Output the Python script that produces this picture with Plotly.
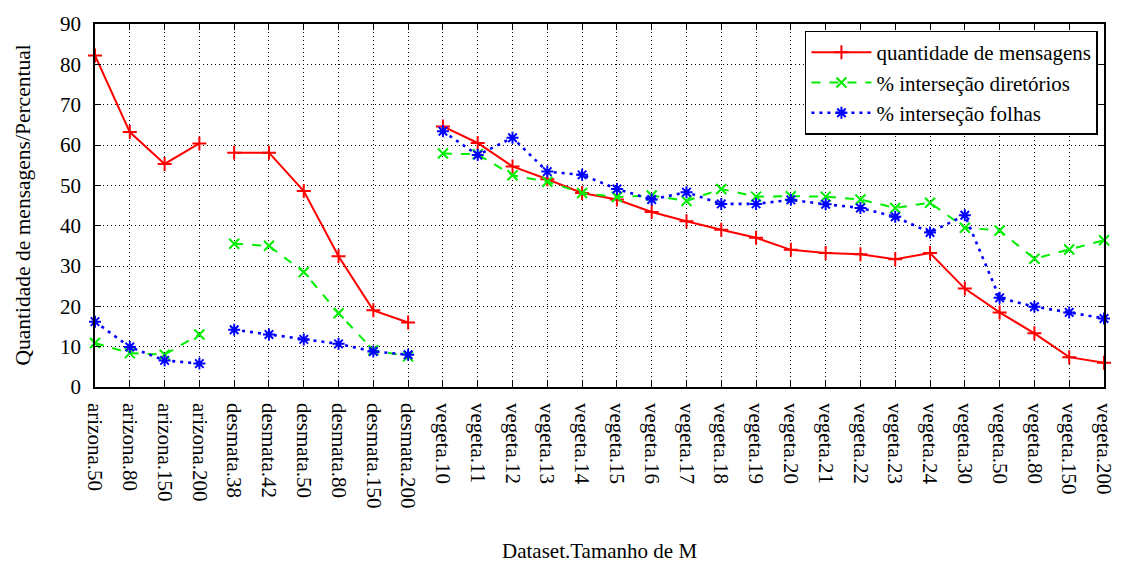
import plotly.graph_objects as go

categories = [
    "arizona.50", "arizona.80", "arizona.150", "arizona.200",
    "desmata.38", "desmata.42", "desmata.50", "desmata.80", "desmata.150", "desmata.200",
    "vegeta.10", "vegeta.11", "vegeta.12", "vegeta.13", "vegeta.14", "vegeta.15",
    "vegeta.16", "vegeta.17", "vegeta.18", "vegeta.19", "vegeta.20", "vegeta.21",
    "vegeta.22", "vegeta.23", "vegeta.24", "vegeta.30", "vegeta.50", "vegeta.80",
    "vegeta.150", "vegeta.200",
]

mensagens = [82.2, 63.2, 55.3, 60.4,
             58.1, 58.1, 48.6, 32.4, 19.0, 16.0,
             64.6, 60.5, 54.7, 51.5, 48.1, 46.5, 43.4, 41.1, 39.0, 37.0,
             34.0, 33.2, 32.9, 31.7, 33.2, 24.4, 18.5, 13.3, 7.4, 6.0]

diretorios = [10.9, 8.4, 8.0, 13.0,
              35.5, 35.0, 28.5, 18.3, 9.1, 7.6,
              57.9, 57.7, 52.5, 50.9, 48.1, 47.1, 47.5, 46.1, 49.1, 47.2,
              47.3, 47.2, 46.5, 44.4, 45.7, 39.5, 38.8, 31.8, 34.1, 36.4]

folhas = [16.2, 9.9, 6.6, 5.8,
          14.2, 13.0, 11.8, 10.7, 8.8, 8.0,
          63.4, 57.5, 61.8, 53.4, 52.6, 49.1, 46.5, 48.3, 45.4, 45.4,
          46.4, 45.3, 44.4, 42.2, 38.3, 42.6, 22.1, 19.9, 18.5, 17.0]

series = [
    ("quantidade de mensagens", mensagens, "#ff0000", "solid", "cross-thin", 10, 2),
    ("% interseção diretórios", diretorios, "#00ee00", "dash", "x-thin", 10, 2),
    ("% interseção folhas", folhas, "#0000ff", "3px,5px", "asterisk", 10, 2.6),
]

# split categories into dataset groups (lines break between datasets)
groups = []
for i, c in enumerate(categories):
    name = c.split(".")[0]
    if not groups or groups[-1][0] != name:
        groups.append([name, []])
    groups[-1][1].append(i)

FONT = "Liberation Serif"
FS = 21
fig = go.Figure()
for name, vals, color, dash, sym, msize, lw in series:
    for gi, (_, idx) in enumerate(groups):
        fig.add_trace(go.Scatter(
            x=[categories[i] for i in idx],
            y=[vals[i] for i in idx],
            mode="lines+markers",
            name=name,
            legendgroup=name,
            showlegend=(gi == 0),
            line=dict(color=color, width=lw, dash=dash),
            marker=dict(symbol=sym, size=msize, color=color,
                        line=dict(color=color, width=2)),
            cliponaxis=False,
        ))

grid = dict(showgrid=True, gridcolor="black", gridwidth=1, griddash="1px,3px")
fig.update_layout(
    width=1128, height=565,
    margin=dict(l=95, r=15, t=19, b=178),
    plot_bgcolor="white", paper_bgcolor="white",
    font=dict(family=FONT, size=FS, color="black"),
    showlegend=True,
    legend=dict(
        x=0.994, xanchor="right", y=0.982, yanchor="top",
        bgcolor="white", bordercolor="black", borderwidth=1.5,
        font=dict(family=FONT, size=FS),
        itemwidth=60, tracegroupgap=0,
    ),
    xaxis=dict(
        type="category", categoryorder="array", categoryarray=categories,
        range=[0, len(categories) - 1],
        tickangle=90, ticks="inside", ticklen=6, tickcolor="black",
        showline=True, linecolor="black", linewidth=1.5, mirror="ticks",
        zeroline=False, ticklabelstandoff=10,
        tickfont=dict(family=FONT, size=FS),
        **grid,
    ),
    yaxis=dict(
        range=[0, 90], dtick=10, tick0=0,
        ticks="inside", ticklen=6, tickcolor="black",
        showline=True, linecolor="black", linewidth=1.5, mirror="ticks",
        zeroline=False, ticklabelstandoff=8,
        tickfont=dict(family=FONT, size=FS),
        **grid,
    ),
    annotations=[
        dict(text="Dataset.Tamanho de M", xref="paper", yref="paper",
             x=0.5, y=0, yshift=-164, showarrow=False,
             xanchor="center", yanchor="middle",
             font=dict(family=FONT, size=FS)),
        dict(text="Quantidade de mensagens/Percentual", xref="paper", yref="paper",
             x=0, y=0.5, xshift=-73, showarrow=False, textangle=-90,
             xanchor="center", yanchor="middle",
             font=dict(family=FONT, size=21.5)),
    ],
)

fig.write_html("out.html")
